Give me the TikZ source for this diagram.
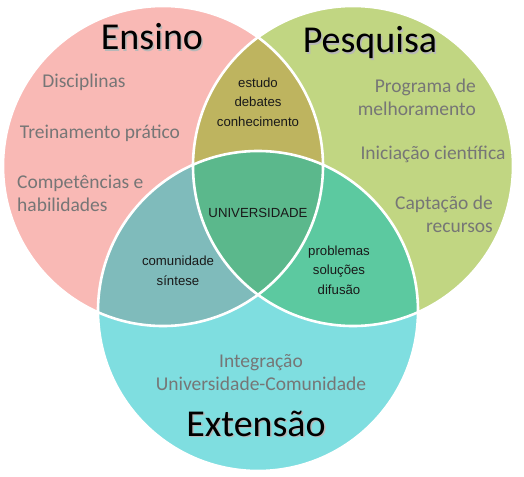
\documentclass[tikz,border=0pt]{standalone}
\usepackage{fontspec}
\setmainfont{Carlito}
\newfontfamily\smallsans{Liberation Sans}
\definecolor{cE}{RGB}{249,185,181}
\definecolor{cP}{RGB}{193,214,130}
\definecolor{cX}{RGB}{127,222,224}
\definecolor{cEP}{RGB}{190,180,95}
\definecolor{cEX}{RGB}{127,187,187}
\definecolor{cPX}{RGB}{92,201,160}
\definecolor{cEPX}{RGB}{91,184,140}
\definecolor{graytxt}{RGB}{118,118,118}
\definecolor{darktxt}{RGB}{25,25,25}
\tikzset{
  titletxt/.style={font=\fontsize{38}{40}\selectfont, text=black, inner sep=0pt, anchor=base},
  shadowtxt/.style={font=\fontsize{38}{40}\selectfont, text=black!28, inner sep=0pt, anchor=base},
  graylbl/.style={font=\fontsize{19.5}{23}\selectfont, text=graytxt, inner sep=0pt},
  smalllbl/.style={font=\smallsans\fontsize{13.2}{19.5}\selectfont, text=darktxt, inner sep=0pt, align=center},
  border/.style={draw=white, line width=2.6pt}
}
\begin{document}
\begin{tikzpicture}[x=1pt,y=-1pt]
\useasboundingbox (0,0) rectangle (524,476);
\def\R{160}
\coordinate (cE) at (163,166);
\coordinate (cP) at (353,166);
\coordinate (cX) at (258,311);
% base fills
\fill[cE] (cE) circle (\R);
\fill[cP] (cP) circle (\R);
\fill[cX] (cX) circle (\R);
% pairwise intersections
\begin{scope}
  \clip (cE) circle (\R);
  \fill[cEP] (cP) circle (\R);
  \fill[cEX] (cX) circle (\R);
\end{scope}
\begin{scope}
  \clip (cP) circle (\R);
  \fill[cPX] (cX) circle (\R);
\end{scope}
\begin{scope}
  \clip (cE) circle (\R);
  \clip (cP) circle (\R);
  \fill[cEPX] (cX) circle (\R);
\end{scope}
% white borders
\draw[border] (cE) circle (\R);
\draw[border] (cP) circle (\R);
\draw[border] (cX) circle (\R);
% titles with soft shadow
\node[shadowtxt] (ensinoS) at (153.5,51.5) {Ensino};
\node[titletxt] (ensino) at (152,50) {Ensino};
\node[shadowtxt] (pesquisaS) at (371.5,54.5) {Pesquisa};
\node[titletxt] (pesquisa) at (370,53) {Pesquisa};
\node[shadowtxt] (extensaoS) at (257.5,437.5) {Extensão};
\node[titletxt] (extensao) at (256,436) {Extensão};
% Ensino items
\node[graylbl, anchor=base] (disc) at (84,88) {Disciplinas};
\node[graylbl, anchor=base] (trein) at (100,138) {Treinamento prático};
\node[graylbl, anchor=west, align=left] (comp) at (17,193) {Competências e\\habilidades};
% Pesquisa items
\node[graylbl, anchor=east, align=right] (prog) at (476,97) {Programa de\\melhoramento};
\node[graylbl, anchor=base] (inic) at (433,159) {Iniciação científica};
\node[graylbl, anchor=east, align=right] (capt) at (493,214) {Captação de\\recursos};
% Extensao items
\node[graylbl, align=center] (integ) at (261,373) {Integração\\Universidade-Comunidade};
% intersections
\node[smalllbl] (ep) at (258,102) {estudo\\debates\\conhecimento};
\node[smalllbl] (ex) at (178,271) {comunidade\\síntese};
\node[smalllbl] (px) at (339,270) {problemas\\soluções\\difusão};
\node[smalllbl] (univ) at (258,213) {UNIVERSIDADE};
\end{tikzpicture}
\end{document}
